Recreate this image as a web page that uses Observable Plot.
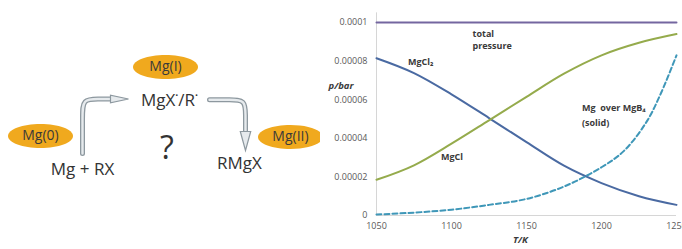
<!DOCTYPE html>
<html><head><meta charset="utf-8">
<script src="https://cdn.jsdelivr.net/npm/d3@7"></script>
<script src="https://cdn.jsdelivr.net/npm/@observablehq/plot@0.6"></script>
<style>
body{margin:0;background:#fff;}
#wrap{display:flex;width:682px;height:249px;overflow:hidden;}
#wrap>div{flex:none;}
svg{max-width:none !important;}
</style></head><body><div id="wrap"><div id="left"></div><div id="right"></div></div>
<script>
// ---- chart data ----
const temperature = [1050, 1075, 1100, 1125, 1150, 1175, 1200, 1225, 1250];
const pTotal = [1e-4, 1e-4, 1e-4, 1e-4, 1e-4, 1e-4, 1e-4, 1e-4, 1e-4];
const pMgCl2 = [8.15e-5, 7.38e-5, 6.28e-5, 5.05e-5, 3.8e-5, 2.58e-5, 1.68e-5, 1.0e-5, 0.55e-5];
const pMgCl = [1.85e-5, 2.6e-5, 3.72e-5, 4.93e-5, 6.15e-5, 7.35e-5, 8.3e-5, 8.95e-5, 9.4e-5];
const mgTemperature = [1050, 1075, 1100, 1125, 1150, 1175, 1200, 1215, 1230, 1240, 1250];
const pMg = [0.05e-5, 0.15e-5, 0.3e-5, 0.55e-5, 0.86e-5, 1.5e-5, 2.5e-5, 3.35e-5, 4.85e-5, 6.4e-5, 8.3e-5];
const xTicks = [1050, 1100, 1150, 1200, 1250];
const yTicks = [0, 0.00002, 0.00004, 0.00006, 0.00008, 0.0001];
const yTickLabels = ["0", "0.00002", "0.00004", "0.00006", "0.00008", "0.0001"];
const labelText = ["total", "pressure", "MgCl₂", "MgCl", "Mg  over MgB₄", "(solid)"];
const labelT = [1114, 1114, 1071, 1093, 1187, 1187];
const labelP = [9.42e-5, 8.79e-5, 7.97e-5, 3.0e-5, 5.54e-5, 4.81e-5];

// ---- scheme (left) layout ----
const bubbleText = ["Mg(0)", "Mg(I)", "Mg(II)"];
const bubbleX = [40, 165, 290];
const bubbleY = [135.5, 66.5, 136.5];
const wordText = ["MgX˙/R˙", "Mg + RX", "RMgX"];
const wordX = [169, 82, 239];
const wordY = [100, 169, 163];
const arrowLeftX = [82, 82, 82, 98, 111];
const arrowLeftY = [153, 115, 98.5, 98.5, 98.5];
const arrowRightX = [209, 230, 245, 245, 245];
const arrowRightY = [99.3, 99.3, 99.3, 115, 131];

const font = "'Open Sans', sans-serif";
const zip = (a, b) => a.map((v, i) => ({x: v, y: b[i]}));

function ellipseSymbol(rx, ry) {
  const k = 0.5523;
  return {draw(ctx) {
    ctx.moveTo(rx, 0);
    ctx.bezierCurveTo(rx, ry * k, rx * k, ry, 0, ry);
    ctx.bezierCurveTo(-rx * k, ry, -rx, ry * k, -rx, 0);
    ctx.bezierCurveTo(-rx, -ry * k, -rx * k, -ry, 0, -ry);
    ctx.bezierCurveTo(rx * k, -ry, rx, -ry * k, rx, 0);
    ctx.closePath();
  }};
}
const headRight = {draw(ctx) { ctx.moveTo(0, 0); ctx.lineTo(-18, -3.8); ctx.lineTo(-18, 3.8); ctx.closePath(); }};
const headDown = {draw(ctx) { ctx.moveTo(0, 0); ctx.lineTo(-5.2, -19); ctx.lineTo(5.2, -19); ctx.closePath(); }};

const bubbles = bubbleText.map((t, i) => ({t, x: bubbleX[i], y: bubbleY[i]}));
const words = wordText.map((t, i) => ({t, x: wordX[i], y: wordY[i]}));
const aL = zip(arrowLeftX, arrowLeftY);
const aR = zip(arrowRightX, arrowRightY);
const outline = "#8d989f", inner = "#e6eaed";

const left = Plot.plot({
  width: 320, height: 249,
  marginLeft: 0, marginRight: 0, marginTop: 0, marginBottom: 0,
  x: {domain: [0, 320], range: [0, 320], axis: null},
  y: {domain: [0, 249], range: [0, 249], axis: null},
  style: {fontFamily: font, background: "#fff"},
  marks: [
    Plot.line(aL, {x: "x", y: "y", curve: "basis", stroke: outline, strokeWidth: 5}),
    Plot.line(aL, {x: "x", y: "y", curve: "basis", stroke: inner, strokeWidth: 2.4}),
    Plot.line(aR, {x: "x", y: "y", curve: "basis", stroke: outline, strokeWidth: 5}),
    Plot.line(aR, {x: "x", y: "y", curve: "basis", stroke: inner, strokeWidth: 2.4}),
    Plot.dot([{x: 128, y: 98.5}], {x: "x", y: "y", r: 5, symbol: headRight, fill: inner, stroke: outline, strokeWidth: 1.2}),
    Plot.dot([{x: 245, y: 150}], {x: "x", y: "y", r: 5, symbol: headDown, fill: inner, stroke: outline, strokeWidth: 1.2}),
    Plot.dot(bubbles, {x: "x", y: "y", r: 5, symbol: ellipseSymbol(32.5, 12), fill: "#f0a91e", stroke: "none"}),
    Plot.text(bubbles, {x: "x", y: "y", text: "t", fontSize: 14, fill: "#3a3a3a"}),
    Plot.text(words, {x: "x", y: "y", text: "t", fontSize: 17, fill: "#333"}),
    Plot.text(["?"], {x: () => 166.5, y: () => 148, text: d => d, fontSize: 32, fill: "#333"})
  ]
});
document.getElementById("left").appendChild(left);

const labels = labelText.map((t, i) => ({t, x: labelT[i], y: labelP[i]}));
const chart = Plot.plot({
  width: 362, height: 249,
  marginLeft: 56, marginRight: 6, marginTop: 22, marginBottom: 34,
  x: {domain: [1050, 1250]},
  y: {domain: [0, 0.0001]},
  style: {fontFamily: font, background: "#fff"},
  marks: [
    Plot.ruleX([1050], {y1: 0, y2: 0.000105, stroke: "#d6d6d6"}),
    Plot.ruleY([0], {x1: 1050, x2: 1250, stroke: "#d6d6d6"}),
    Plot.axisX(xTicks, {tickSize: 0, tickPadding: 7, fontSize: 9, color: "#595959", label: null,
      tickFormat: d => String(d)}),
    Plot.axisY(yTicks, {tickSize: 0, tickPadding: 9, fontSize: 9, color: "#595959", label: null,
      tickFormat: d => yTickLabels[yTicks.indexOf(d)]}),
    Plot.line(zip(temperature, pTotal), {x: "x", y: "y", stroke: "#7466a0", strokeWidth: 2}),
    Plot.line(zip(temperature, pMgCl2), {x: "x", y: "y", curve: "monotone-x", stroke: "#4a6aa2", strokeWidth: 2}),
    Plot.line(zip(temperature, pMgCl), {x: "x", y: "y", curve: "monotone-x", stroke: "#95ab4c", strokeWidth: 2}),
    Plot.line(zip(mgTemperature, pMg), {x: "x", y: "y", curve: "catmull-rom", stroke: "#3f97b8", strokeWidth: 2, strokeDasharray: "5,3"}),
    Plot.text(labels, {x: "x", y: "y", text: "t", textAnchor: "start", fontSize: 9, fontWeight: "bold", fill: "#3a3a3a"}),
    Plot.text(["p/bar"], {frameAnchor: "left", y: () => 6.73e-5, text: d => d, dx: -48, textAnchor: "start", fontSize: 9.5, fontWeight: "bold", fontStyle: "italic", fill: "#3a3a3a"}),
    Plot.text(["T/K"], {frameAnchor: "bottom", x: () => 1146, text: d => d, dy: 27, fontSize: 9.5, fontWeight: "bold", fontStyle: "italic", fill: "#3a3a3a"})
  ]
});
document.getElementById("right").appendChild(chart);
</script></body></html>
